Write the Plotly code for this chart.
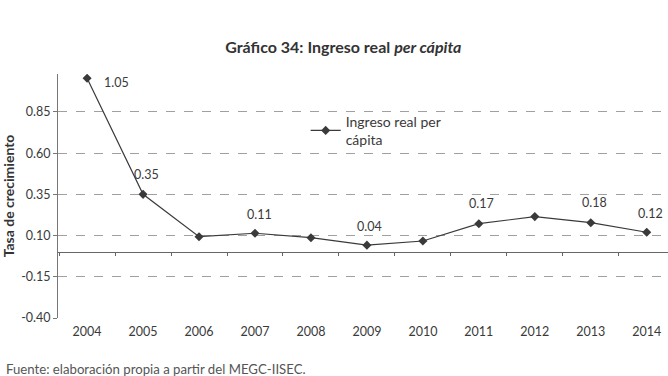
import plotly.graph_objects as go

years = [2004, 2005, 2006, 2007, 2008, 2009, 2010, 2011, 2012, 2013, 2014]
ingreso = [1.054, 0.35, 0.093, 0.114, 0.087, 0.042, 0.067, 0.172, 0.215, 0.178, 0.12]
labels = ["1.05", "0.35", "", "0.11", "", "0.04", "", "0.17", "", "0.18", "0.12"]
ytick_vals = [-0.40, -0.15, 0.10, 0.35, 0.60, 0.85]
ytick_text = ["-0.40", "-0.15", "0.10", "0.35", "0.60", "0.85"]

# label offsets (pixels) per point: style only
label_xshift = [29, 3, 0, 5, 0, 3, 0, 3, 0, 4, 4]
label_yshift = [-4, 20, 0, 19, 0, 19, 0, 20, 0, 20, 19]

FONT = "Lato"
TXT = "#3a3a3a"
YMIN, YMAX = -0.40, 1.08

fig = go.Figure()
fig.add_trace(go.Scatter(
    x=years, y=ingreso, mode="lines+markers",
    name="Ingreso real per<br>cápita",
    line=dict(color="#3a3a3a", width=1.2),
    marker=dict(symbol="diamond", size=7, color="#3a3a3a"),
    xaxis="x", yaxis="y",
))

for yr, v, t, dx, dy in zip(years, ingreso, labels, label_xshift, label_yshift):
    if t:
        fig.add_annotation(x=yr, y=v, xref="x", yref="y", text=t, showarrow=False,
                           xshift=dx, yshift=dy,
                           font=dict(family=FONT, size=12.5, color=TXT))

fig.update_layout(
    title=dict(text="<b>Gráfico 34: Ingreso real <i>per cápita</i></b>",
               x=0.514, y=1 - 47 / 376, xref="container", yref="container",
               xanchor="center", yanchor="middle",
               font=dict(family=FONT, size=16, color="#333")),
)
fig.add_annotation(x=-0.0885, y=-0.209, xref="paper", yref="paper",
                   xanchor="left", yanchor="middle",
                   text="Fuente: elaboración propia a partir del MEGC-IISEC.",
                   showarrow=False, font=dict(family=FONT, size=13.2, color="#555"))

zero_pos = (0 - YMIN) / (YMAX - YMIN)
boundaries = [y - 0.5 for y in years] + [years[-1] + 0.5]

fig.update_layout(
    width=668, height=376,
    margin=dict(l=58, r=0, t=74, b=58, autoexpand=False),
    paper_bgcolor="white", plot_bgcolor="white",
    font=dict(family=FONT, size=12, color=TXT),
    xaxis=dict(range=[years[0] - 0.52, years[-1] + 0.38], tickvals=years,
               showline=False, showgrid=False, ticks="", automargin=False,
               zeroline=False, tickfont=dict(family=FONT, size=12.5, color=TXT),
               ticklabelstandoff=4),
    xaxis2=dict(matches="x", overlaying="x", anchor="free", position=zero_pos,
                showline=True, linecolor="#666", linewidth=1, showgrid=False,
                tickvals=boundaries, automargin=False,
                ticks="outside", ticklen=3, tickcolor="#666",
                showticklabels=False, zeroline=False),
    yaxis=dict(range=[YMIN, YMAX], tickvals=ytick_vals, ticktext=ytick_text,
               showline=True, linecolor="#777", linewidth=1, automargin=False,
               ticks="outside", ticklen=4, tickcolor="#777",
               showgrid=True, gridcolor="#a0a0a0", griddash="dash", gridwidth=0.8,
               zeroline=False,
               tickfont=dict(family=FONT, size=12.5, color=TXT),
               title=dict(text="<b>Tasa de crecimiento</b>", standoff=8,
                          font=dict(family=FONT, size=14, color="#333"))),
    legend=dict(x=0.406, y=0.87, xanchor="left", yanchor="top",
                bgcolor="rgba(0,0,0,0)", font=dict(family=FONT, size=14, color=TXT)),
    showlegend=True,
)
# helper trace so the zero-line axis renders its boundary tick marks
fig.add_trace(go.Scatter(x=years, y=ingreso, mode="markers", marker=dict(opacity=0),
                         showlegend=False, hoverinfo="skip", xaxis="x2", yaxis="y"))

fig.write_html("out.html", config={"displayModeBar": False},
               post_script="document.body.style.margin='0';")
